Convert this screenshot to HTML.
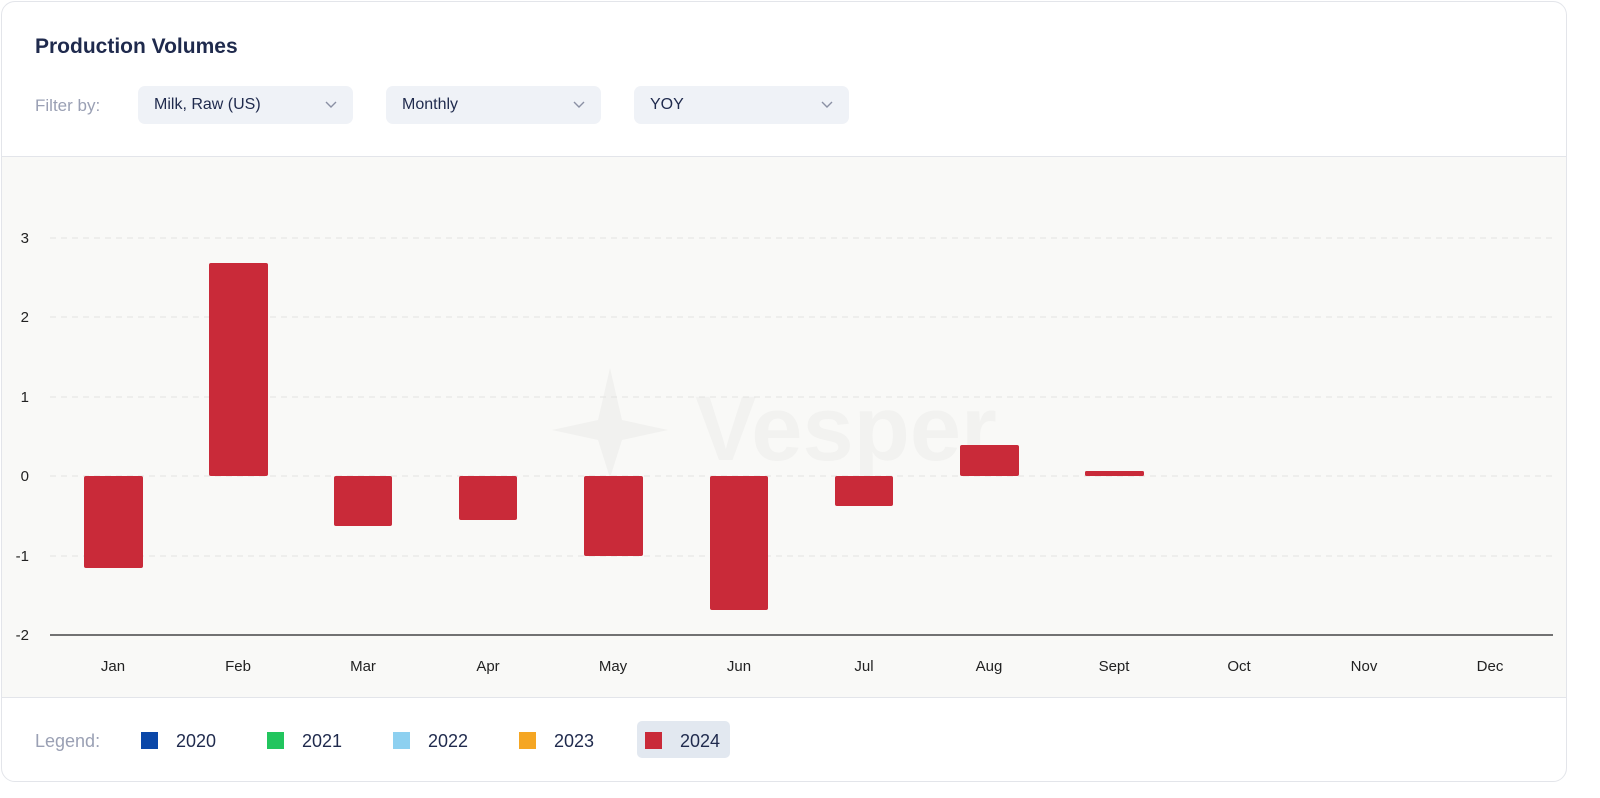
<!DOCTYPE html>
<html><head><style>
body{margin:0;width:1600px;height:798px;background:#fff;font-family:"Liberation Sans",sans-serif;position:relative;overflow:hidden}
.card{position:absolute;left:1px;top:1px;width:1564px;height:779px;border:1px solid #e3e5ea;border-radius:14px;overflow:hidden;background:#fff}
.title{position:absolute;left:33px;top:33px;font-size:21px;font-weight:bold;color:#1f2a4d}
.fl{position:absolute;left:33px;top:94px;font-size:17px;color:#9aa0b4}
.sel{position:absolute;top:84px;width:215px;height:38px;background:#eff2f7;border-radius:7px;font-size:16px;color:#1f2a4d}
.sel span{position:absolute;left:16px;top:10px}
.sel svg{position:absolute;right:16px;top:15px}
.chart{position:absolute;left:0;top:154px;width:1566px;height:540px;background:#f9f9f7;border-top:1px solid #e3e5ea;border-bottom:1px solid #e3e5ea}
.lg{position:absolute;top:729px;font-size:18px;color:#1f2a4d}
.sw{position:absolute;top:730px;width:17px;height:17px}
</style></head><body>
<div class="card">
<div class="title">Production Volumes</div>
<div class="fl">Filter by:</div>
<div class="sel" style="left:136px"><span>Milk, Raw (US)</span><svg width="12" height="8"><path d="M1 1l5 5 5-5" fill="none" stroke="#8a90a4" stroke-width="1.4"/></svg></div>
<div class="sel" style="left:384px"><span>Monthly</span><svg width="12" height="8"><path d="M1 1l5 5 5-5" fill="none" stroke="#8a90a4" stroke-width="1.4"/></svg></div>
<div class="sel" style="left:632px"><span>YOY</span><svg width="12" height="8"><path d="M1 1l5 5 5-5" fill="none" stroke="#8a90a4" stroke-width="1.4"/></svg></div>
<div class="chart"></div>
<div style="position:absolute;left:33px;top:729px;font-size:18px;color:#9aa0b4">Legend:</div>
<div style="position:absolute;left:635px;top:719px;width:93px;height:37px;background:#e2e8f0;border-radius:5px"></div>
<div class="sw" style="left:139px;background:#0a47a8"></div><div class="lg" style="left:174px">2020</div>
<div class="sw" style="left:265px;background:#22c55e"></div><div class="lg" style="left:300px">2021</div>
<div class="sw" style="left:391px;background:#8dd0f0"></div><div class="lg" style="left:426px">2022</div>
<div class="sw" style="left:517px;background:#f5a623"></div><div class="lg" style="left:552px">2023</div>
<div class="sw" style="left:643px;background:#c92a39"></div><div class="lg" style="left:678px">2024</div>
</div>
<svg width="1600" height="798" style="position:absolute;left:0;top:0" font-family="Liberation Sans, sans-serif">
<g fill="#f1f1ef"><path d="M610 368 L622 420 L668 430 L622 440 L610 478 L598 440 L552 430 L598 420Z"/>
<text x="695" y="460" font-size="92" font-weight="bold" fill="#f2f2f0">Vesper</text></g>
<g stroke="#e2e2e0" stroke-dasharray="6 5" stroke-width="1">
<line x1="50" x2="1553" y1="238" y2="238"/><line x1="50" x2="1553" y1="317" y2="317"/>
<line x1="50" x2="1553" y1="397" y2="397"/><line x1="50" x2="1553" y1="476" y2="476"/>
<line x1="50" x2="1553" y1="556" y2="556"/></g>
<line x1="50" x2="1553" y1="635" y2="635" stroke="#222" stroke-width="1.3"/>
<g font-size="15" fill="#222" text-anchor="end">
<text x="29" y="243">3</text><text x="29" y="322">2</text><text x="29" y="402">1</text>
<text x="29" y="481">0</text><text x="29" y="561">-1</text><text x="29" y="640">-2</text></g>
<g font-size="15" fill="#222" text-anchor="middle">
<text x="113" y="671">Jan</text><text x="238" y="671">Feb</text><text x="363" y="671">Mar</text>
<text x="488" y="671">Apr</text><text x="613" y="671">May</text><text x="739" y="671">Jun</text>
<text x="864" y="671">Jul</text><text x="989" y="671">Aug</text><text x="1114" y="671">Sept</text>
<text x="1239" y="671">Oct</text><text x="1364" y="671">Nov</text><text x="1490" y="671">Dec</text></g>
<g fill="#c92a39">
<rect x="84" y="476" width="59" height="92" rx="2"/>
<rect x="209" y="263" width="59" height="213" rx="2"/>
<rect x="334" y="476" width="58" height="50" rx="2"/>
<rect x="459" y="476" width="58" height="44" rx="2"/>
<rect x="584" y="476" width="59" height="80" rx="2"/>
<rect x="710" y="476" width="58" height="134" rx="2"/>
<rect x="835" y="476" width="58" height="30" rx="2"/>
<rect x="960" y="445" width="59" height="31" rx="2"/>
<rect x="1085" y="471" width="59" height="5" rx="1.5"/>
</g>
</svg>
</body></html>
